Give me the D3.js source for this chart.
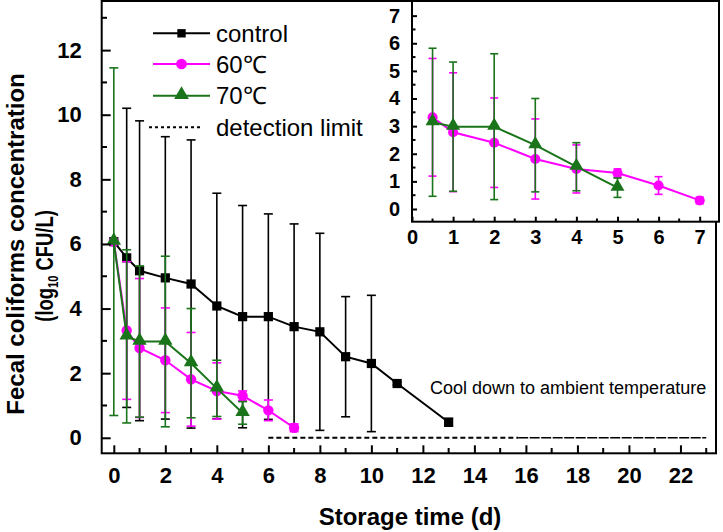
<!DOCTYPE html>
<html><head><meta charset="utf-8">
<script src="https://cdn.jsdelivr.net/npm/d3@7"></script>
<style>body{margin:0;background:#fff}svg{display:block}text{font-family:"Liberation Sans",Arial,sans-serif}</style>
</head><body><svg id="c" width="723" height="532"></svg>
<script>
// ---- data ----
const daysControl = [0,0.5,1,2,3,4,5,6,7,8,9,10,11,13];
const meanControl = [6.07,5.57,5.17,4.95,4.76,4.08,3.75,3.75,3.44,3.28,2.51,2.30,1.68,0.48];
const sdControl   = [0,4.63,4.64,4.37,4.46,3.49,3.44,3.18,3.18,3.05,1.86,2.11,0.05,0.12];
const days60 = [0,0.5,1,2,3,4,5,6,7];
const mean60 = [6.07,3.32,2.78,2.40,1.81,1.45,1.30,0.85,0.31];
const sd60   = [0,2.13,2.15,1.62,1.45,0.87,0.15,0.32,0.12];
const days70 = [0,0.5,1,2,3,4,5];
const mean70 = [6.07,3.14,2.98,2.98,2.31,1.53,0.77];
const sd70   = [5.38,2.68,2.34,2.64,1.69,0.87,0.35];
const seriesNames = ["control","60℃","70℃"];
const detectionLabel = "detection limit";
const detectionDashed = [6,15.7];
const detectionSolid = [15.7,23];
const mainXTicks = [0,2,4,6,8,10,12,14,16,18,20,22];
const mainYTicks = [0,2,4,6,8,10,12];
const insetXTicks = [0,1,2,3,4,5,6,7];
const insetYTicks = [0,1,2,3,4,5,6,7];
const xTitle = "Storage time (d)";
const yTitle1 = "Fecal coliforms concentration";
const noteText = "Cool down to ambient temperature";

const colors = ["#000000","#ff00ff","#1a741a"];
const series = [
  {name:seriesNames[0], color:colors[0], shape:"square", pts:daysControl.map((d,i)=>({x:d,y:meanControl[i],e:sdControl[i]}))},
  {name:seriesNames[1], color:colors[1], shape:"circle", pts:days60.map((d,i)=>({x:d,y:mean60[i],e:sd60[i]}))},
  {name:seriesNames[2], color:colors[2], shape:"triangle", pts:days70.map((d,i)=>({x:d,y:mean70[i],e:sd70[i]}))}
];

const svg = d3.select("#c");
const fontAx = "Liberation Sans, Arial, sans-serif";

// ---- main scales ----
const x = d3.scaleLinear().domain([-0.47,23.38]).range([101.7,716]);
const y = d3.scaleLinear().domain([-0.48,13.52]).range([453.3,1]);

function symbolPath(shape,size){
  const t = shape==="square"?d3.symbolSquare:shape==="circle"?d3.symbolCircle:d3.symbolTriangle;
  return d3.symbol().type(t).size(size)();
}

function drawSeries(g, sx, sy, s, opts){
  const line = d3.line().x(d=>sx(d.x)).y(d=>sy(d.y));
  const pts = s.pts.filter(opts.filter);
  g.append("path").attr("d",line(pts)).attr("fill","none").attr("stroke",s.color).attr("stroke-width",opts.lw);
  const eb = g.append("g").attr("stroke",s.color).attr("stroke-width",opts.elw);
  pts.filter(d=>d.e>0).forEach(d=>{
    const cx=sx(d.x), y1=sy(d.y+d.e), y2=sy(d.y-d.e), w=opts.cap/2;
    eb.append("line").attr("x1",cx).attr("x2",cx).attr("y1",y1).attr("y2",y2);
    eb.append("line").attr("x1",cx-w).attr("x2",cx+w).attr("y1",y1).attr("y2",y1);
    eb.append("line").attr("x1",cx-w).attr("x2",cx+w).attr("y1",y2).attr("y2",y2);
  });
  const sz = s.shape==="square"?opts.sq:s.shape==="circle"?opts.ci:opts.tr;
  g.append("g").selectAll("path").data(pts).join("path")
    .attr("d",symbolPath(s.shape,sz))
    .attr("transform",d=>`translate(${sx(d.x)},${sy(d.y)+(s.shape==="triangle"?-1:0)})`)
    .attr("fill",s.color);
}

// ---- main plot ----
const gMain = svg.append("g");
gMain.append("line").attr("x1",x(detectionDashed[0])).attr("x2",x(detectionDashed[1]))
  .attr("y1",y(0)).attr("y2",y(0)).attr("stroke","#000").attr("stroke-width",2).attr("stroke-dasharray","5,3");
gMain.append("line").attr("x1",x(detectionSolid[0])).attr("x2",x(detectionSolid[1]))
  .attr("y1",y(0)).attr("y2",y(0)).attr("stroke","#000").attr("stroke-width",1.5).attr("stroke-dasharray","10,1.5");

series.forEach(s=>drawSeries(gMain,x,y,s,{filter:()=>true,lw:2,elw:1.6,cap:9,sq:85,ci:85,tr:90}));

svg.append("rect").attr("x",101.7).attr("y",1).attr("width",716-101.7).attr("height",453.3-1)
  .attr("fill","none").attr("stroke","#000").attr("stroke-width",2);

const xAxis = d3.axisBottom(x).tickValues(mainXTicks).tickSize(-8).tickPadding(14).tickFormat(d3.format("d"));
const gx = svg.append("g").attr("transform","translate(0,453.3)").call(xAxis);
gx.select(".domain").remove();
gx.selectAll("line").attr("stroke-width",2);
gx.selectAll("text").attr("font-size",22).attr("font-weight","bold").attr("font-family",fontAx).attr("fill","#000");
const xMinor = d3.range(1,24,2);
svg.append("g").selectAll("line").data(xMinor).join("line")
  .attr("x1",d=>x(d)).attr("x2",d=>x(d)).attr("y1",453.3).attr("y2",448).attr("stroke","#000").attr("stroke-width",2);

const yAxis = d3.axisLeft(y).tickValues(mainYTicks).tickSize(-9).tickPadding(20).tickFormat(d3.format("d"));
const gy = svg.append("g").attr("transform","translate(101.7,0)").call(yAxis);
gy.select(".domain").remove();
gy.selectAll("line").attr("stroke-width",2);
gy.selectAll("text").attr("font-size",22).attr("font-weight","bold").attr("font-family",fontAx).attr("fill","#000");
const yMinor = d3.range(1,14,2);
svg.append("g").selectAll("line").data(yMinor).join("line")
  .attr("x1",101.7).attr("x2",107).attr("y1",d=>y(d)).attr("y2",d=>y(d)).attr("stroke","#000").attr("stroke-width",2);

svg.append("text").attr("x",410).attr("y",525).attr("text-anchor","middle")
  .attr("font-size",24).attr("font-weight","bold").text(xTitle);
svg.append("text").attr("transform","translate(24,244) rotate(-90)").attr("text-anchor","middle")
  .attr("font-size",24).attr("font-weight","bold").text(yTitle1);
const t2 = svg.append("text").attr("transform","translate(53,266) rotate(-90) scale(0.8,1)").attr("text-anchor","middle")
  .attr("font-size",23).attr("font-weight","bold");
t2.append("tspan").text("(log");
t2.append("tspan").attr("font-size",14).attr("dy",5).text("10");
t2.append("tspan").attr("dy",-5).text(" CFU/L)");

svg.append("text").attr("x",430).attr("y",394).attr("font-size",18).text(noteText);

const legRows = [33.3,64,95.7];
series.forEach((s,i)=>{
  const g = svg.append("g");
  g.append("line").attr("x1",153).attr("x2",210).attr("y1",legRows[i]).attr("y2",legRows[i]).attr("stroke",s.color).attr("stroke-width",2);
  const sz = s.shape==="square"?70:s.shape==="circle"?90:95;
  g.append("path").attr("d",symbolPath(s.shape,sz)).attr("transform",`translate(181.5,${legRows[i]+(s.shape==="triangle"?-1:0)})`).attr("fill",s.color);
  g.append("text").attr("x",216).attr("y",legRows[i]+8.5).attr("font-size",24).text(s.name);
});
svg.append("line").attr("x1",149).attr("x2",203).attr("y1",127.3).attr("y2",127.3).attr("stroke","#000").attr("stroke-width",2).attr("stroke-dasharray","3,3");
svg.append("text").attr("x",216).attr("y",135.8).attr("font-size",24).text(detectionLabel);

// ---- inset ----
const ix = d3.scaleLinear().domain([0,7.47]).range([412,719]);
const iy = d3.scaleLinear().domain([-0.46,7.53]).range([221.7,1]);
svg.append("rect").attr("x",412).attr("y",1).attr("width",719-412).attr("height",221.7-1).attr("fill","#fff");
const gIn = svg.append("g");
series.slice(1).forEach(s=>drawSeries(gIn,ix,iy,s,{filter:d=>d.x>0,lw:2,elw:1.6,cap:8,sq:70,ci:80,tr:85}));
svg.append("rect").attr("x",412).attr("y",1).attr("width",719-412).attr("height",221.7-1)
  .attr("fill","none").attr("stroke","#000").attr("stroke-width",2);
const ixAxis = d3.axisBottom(ix).tickValues(insetXTicks).tickSize(-5).tickPadding(8).tickFormat(d3.format("d"));
const gix = svg.append("g").attr("transform","translate(0,221.7)").call(ixAxis);
gix.select(".domain").remove();
gix.selectAll("line").attr("stroke-width",2);
gix.selectAll("text").attr("font-size",20).attr("font-weight","bold").attr("font-family",fontAx).attr("fill","#000");
svg.append("g").selectAll("line").data(d3.range(0.5,7.5,1)).join("line")
  .attr("x1",d=>ix(d)).attr("x2",d=>ix(d)).attr("y1",221.7).attr("y2",218.5).attr("stroke","#000").attr("stroke-width",2);
const iyAxis = d3.axisLeft(iy).tickValues(insetYTicks).tickSize(-5).tickPadding(12).tickFormat(d3.format("d"));
const giy = svg.append("g").attr("transform","translate(412,0)").call(iyAxis);
giy.select(".domain").remove();
giy.selectAll("line").attr("stroke-width",2);
giy.selectAll("text").attr("font-size",20).attr("font-weight","bold").attr("font-family",fontAx).attr("fill","#000");
svg.append("g").selectAll("line").data(d3.range(0.5,7.5,1)).join("line")
  .attr("x1",412).attr("x2",415.5).attr("y1",d=>iy(d)).attr("y2",d=>iy(d)).attr("stroke","#000").attr("stroke-width",2);
</script></body></html>
